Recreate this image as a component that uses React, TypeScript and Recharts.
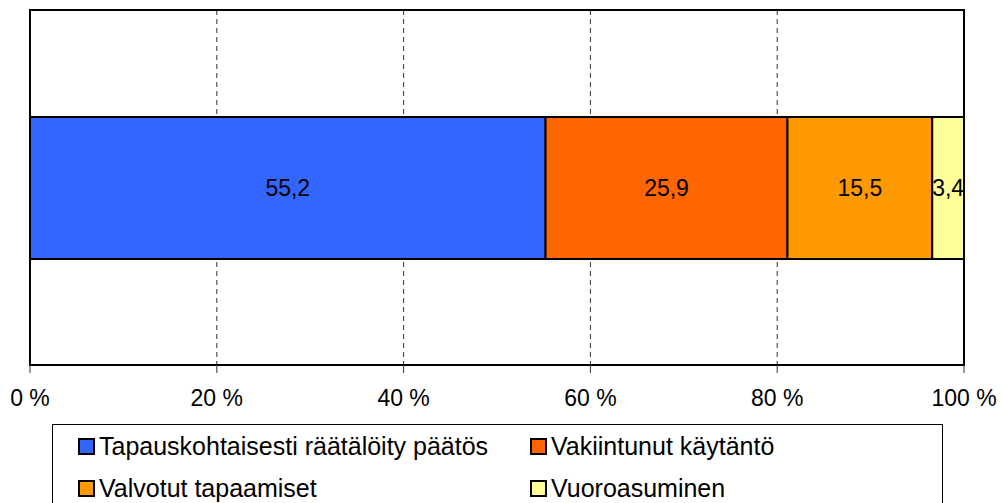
import React from 'react';
import { BarChart, Bar, XAxis, YAxis, CartesianGrid, Legend, LabelList, ReferenceArea } from 'recharts';

const categories = ['Kaikki'];
const seriesNames = [
  'Tapauskohtaisesti räätälöity päätös',
  'Vakiintunut käytäntö',
  'Valvotut tapaamiset',
  'Vuoroasuminen',
];
const seriesValues = [55.2, 25.9, 15.5, 3.4];
const seriesColors = ['#3366FF', '#FF6600', '#FF9900', '#FFFF99'];
const xTicks = [0, 20, 40, 60, 80, 100];

const FONT = '"Liberation Sans", Arial, sans-serif';

// one row, one key per series
const data = categories.map((name) => {
  const row: any = { name };
  seriesNames.forEach((s, i) => {
    row['s' + i] = seriesValues[i];
  });
  return row;
});

const fmt = (v: any) => String(v).replace('.', ',');

function LegendBox({ payload }: any) {
  return (
    <div
      style={{
        width: 891,
        height: 110,
        border: '1px solid #000',
        boxSizing: 'border-box',
        background: '#fff',
        display: 'grid',
        gridTemplateColumns: '452px 1fr',
        gridAutoRows: '42px',
        paddingLeft: 25,
        paddingTop: 0,
        fontFamily: FONT,
        fontSize: 25,
        color: '#000',
      }}
    >
      {(payload || []).map((p: any) => (
        <div key={p.value} style={{ display: 'flex', alignItems: 'center' }}>
          <span
            style={{
              width: 17,
              height: 17,
              boxSizing: 'border-box',
              border: '2px solid #000',
              background: p.color,
              marginRight: 4,
              flex: 'none',
            }}
          />
          <span style={{ whiteSpace: 'nowrap' }}>{p.value}</span>
        </div>
      ))}
    </div>
  );
}

export default function App() {
  return (
    <div style={{ position: 'absolute', left: 0, top: 0, width: 1002, height: 503, overflow: 'hidden', background: '#fff', fontFamily: FONT }}>
      <BarChart
        width={1002}
        height={503}
        data={data}
        layout="vertical"
        margin={{ top: 10, right: 38, bottom: 78, left: 30 }}
      >
        <CartesianGrid horizontal={false} stroke="#333" strokeDasharray="5 4" />
        <XAxis
          type="number"
          domain={[0, 100]}
          ticks={xTicks}
          interval={0}
          tickFormatter={(v) => `${v} %`}
          axisLine={{ stroke: '#000', strokeWidth: 2 }}
          tickLine={{ stroke: '#333' }}
          tickSize={8}
          tickMargin={17}
          height={60}
          tick={{ fill: '#000', fontSize: 23, fontFamily: FONT }}
        />
        <YAxis type="category" dataKey="name" hide width={0} />
        <ReferenceArea x1={0} x2={100} fill="none" stroke="#000" strokeWidth={2} ifOverflow="visible" />
        {seriesNames.map((s, i) => (
          <Bar
            key={s}
            dataKey={'s' + i}
            name={s}
            stackId="a"
            fill={seriesColors[i]}
            stroke="#000"
            strokeWidth={2}
            barSize={142}
            isAnimationActive={false}
          >
            <LabelList dataKey={'s' + i} position="center" formatter={fmt} fill="#000" fontSize={23} fontFamily={FONT} />
          </Bar>
        ))}
        <Legend
          layout="horizontal"
          verticalAlign="middle"
          align="center"
          content={<LegendBox />}
          wrapperStyle={{ position: 'absolute', left: 52, top: 424, width: 891 }}
        />
      </BarChart>
    </div>
  );
}
